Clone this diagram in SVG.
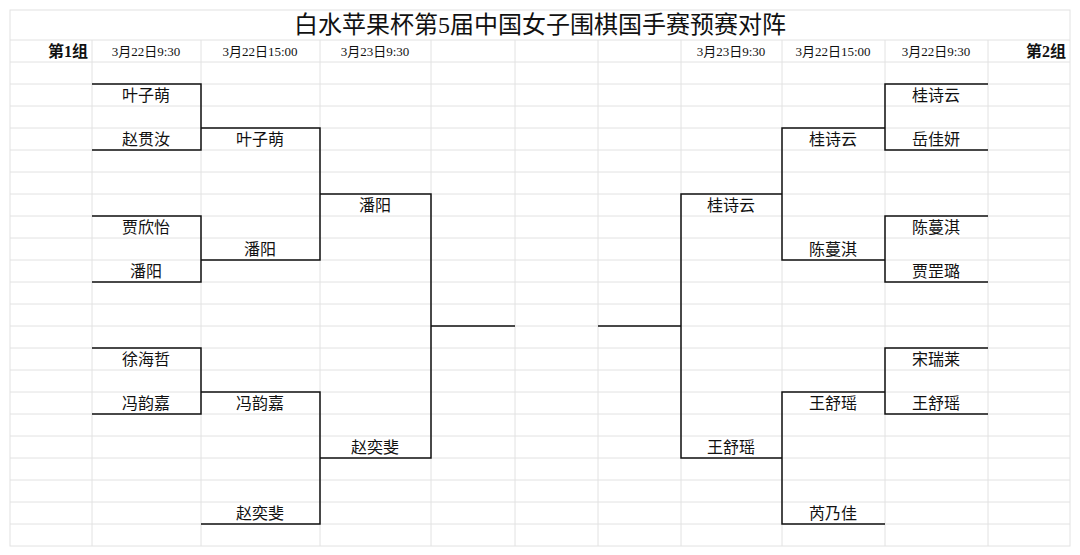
<svg xmlns="http://www.w3.org/2000/svg" width="1080" height="555" viewBox="0 0 1080 555">
<style>
.g{stroke:#e2e2e2;stroke-width:1;fill:none}
.b{stroke:#111;stroke-width:1.5;fill:none}
text{font-family:"Liberation Serif","Noto Sans CJK SC",serif;fill:#111}
.n{font-size:16px;text-anchor:middle}
.d{font-size:13px;text-anchor:middle}
.h{font-size:16px;font-weight:bold}
</style>
<rect width="1080" height="555" fill="#fff"/>
<g id="grid" class="g">
<rect x="10" y="10" width="1060" height="536"/>
<path d="M10 40H1070M10 62H1070M10 84H1070M10 106H1070M10 128H1070M10 150H1070M10 172H1070M10 194H1070M10 216H1070M10 238H1070M10 260H1070M10 282H1070M10 304H1070M10 326H1070M10 348H1070M10 370H1070M10 392H1070M10 414H1070M10 436H1070M10 458H1070M10 480H1070M10 502H1070M10 524H1070"/>
<path d="M92 40V546M201 40V546M320 40V546M431 40V546M515 40V546M598 40V546M681 40V546M782 40V546M885 40V546M988 40V546"/>
</g>
<text x="540" y="33" style="font-size:24px" text-anchor="middle">白水苹果杯第5届中国女子围棋国手赛预赛对阵</text>
<g id="headers">
<text class="h" x="88" y="57" text-anchor="end">第1组</text>
<text class="d" x="146" y="56">3月22日9:30</text>
<text class="d" x="260" y="56">3月22日15:00</text>
<text class="d" x="375" y="56">3月23日9:30</text>
<text class="d" x="731" y="56">3月23日9:30</text>
<text class="d" x="833" y="56">3月22日15:00</text>
<text class="d" x="936" y="56">3月22日9:30</text>
<text class="h" x="1066" y="57" text-anchor="end">第2组</text>
</g>
<g id="connectors" class="b">
<path d="M92 84H201V150H92"/>
<path d="M92 216H201V282H92"/>
<path d="M92 348H201V414H92"/>
<path d="M201 128H320V260H201"/>
<path d="M201 392H320V524H201"/>
<path d="M320 194H431V458H320"/>
<path d="M431 326H515"/>
<path d="M988 84H885V150H988"/>
<path d="M988 216H885V282H988"/>
<path d="M988 348H885V414H988"/>
<path d="M885 128H782V260H885"/>
<path d="M885 392H782V524H885"/>
<path d="M782 194H681V458H782"/>
<path d="M681 326H598"/>
</g>
<g id="left-names">
<text id="n1" class="n" x="146" y="101">叶子萌</text>
<text id="n2" class="n" x="146" y="145">赵贯汝</text>
<text id="n3" class="n" x="146" y="233">贾欣怡</text>
<text id="n4" class="n" x="146" y="277">潘阳</text>
<text id="n5" class="n" x="146" y="365">徐海哲</text>
<text id="n6" class="n" x="146" y="409">冯韵嘉</text>
<text id="n7" class="n" x="260" y="145">叶子萌</text>
<text id="n8" class="n" x="260" y="255">潘阳</text>
<text id="n9" class="n" x="260" y="409">冯韵嘉</text>
<text id="n10" class="n" x="260" y="519">赵奕斐</text>
<text id="n11" class="n" x="375" y="211">潘阳</text>
<text id="n12" class="n" x="375" y="453">赵奕斐</text>
</g>
<g id="right-names">
<text id="m1" class="n" x="936" y="101">桂诗云</text>
<text id="m2" class="n" x="936" y="145">岳佳妍</text>
<text id="m3" class="n" x="936" y="233">陈蔓淇</text>
<text id="m4" class="n" x="936" y="277">贾罡璐</text>
<text id="m5" class="n" x="936" y="365">宋瑞莱</text>
<text id="m6" class="n" x="936" y="409">王舒瑶</text>
<text id="m7" class="n" x="833" y="145">桂诗云</text>
<text id="m8" class="n" x="833" y="255">陈蔓淇</text>
<text id="m9" class="n" x="833" y="409">王舒瑶</text>
<text id="m10" class="n" x="833" y="519">芮乃佳</text>
<text id="m11" class="n" x="731" y="211">桂诗云</text>
<text id="m12" class="n" x="731" y="453">王舒瑶</text>
</g>
</svg>
